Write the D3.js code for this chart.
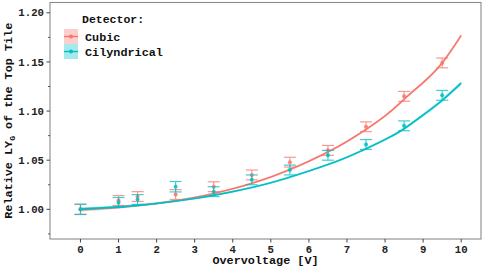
<!DOCTYPE html>
<html>
<head>
<meta charset="utf-8">
<script src="https://cdn.jsdelivr.net/npm/d3@7"></script>
<style>
  body { margin: 0; background: #fff; }
  text { font-family: "Liberation Mono", "DejaVu Sans Mono", monospace; font-weight: bold; }
</style>
</head>
<body>
<svg id="chart"></svg>
<script>
// measured points (overvoltage, relative LY) with error
const volts = [0, 1, 1.5, 2.5, 3.5, 4.5, 5.5, 6.5, 7.5, 8.5, 9.5];
const cubicLY = [1.000, 1.009, 1.013, 1.015, 1.023, 1.035, 1.048, 1.060, 1.084, 1.115, 1.149];
const cubicErr = [0.005, 0.005, 0.005, 0.005, 0.005, 0.005, 0.005, 0.005, 0.005, 0.005, 0.005];
const cylLY = [1.000, 1.007, 1.010, 1.023, 1.018, 1.030, 1.040, 1.055, 1.066, 1.085, 1.116];
const cylErr = [0.0053, 0.005, 0.005, 0.0053, 0.005, 0.005, 0.005, 0.005, 0.005, 0.005, 0.005];

// fitted curves
const fitX = [0, 1, 2, 3, 4, 5, 6, 7, 8, 8.5, 9, 9.5, 10];
const cubicFit = [0.9995, 1.002, 1.006, 1.012, 1.021, 1.033, 1.049, 1.069, 1.095, 1.112, 1.129, 1.149, 1.177];
const cubicSe = [0.0018, 0.0014, 0.0012, 0.001, 0.001, 0.001, 0.001, 0.001, 0.0012, 0.0013, 0.0015, 0.0017, 0.002];
const cylFit = [1.0003, 1.0025, 1.006, 1.011, 1.018, 1.027, 1.039, 1.053, 1.071, 1.082, 1.096, 1.111, 1.1285];
const cylSe = [0.0018, 0.0014, 0.0012, 0.001, 0.001, 0.001, 0.001, 0.001, 0.0012, 0.0013, 0.0015, 0.0017, 0.002];

const xTicks = [0, 1, 2, 3, 4, 5, 6, 7, 8, 9, 10];
const yTicks = [1.00, 1.05, 1.10, 1.15, 1.20];
const yMinor = [0.975, 1.025, 1.075, 1.125, 1.175];
const detectors = ["Cubic", "Cilyndrical"];

const W = 484, H = 267;
const panel = { left: 50, right: 481, top: 2.5, bottom: 239 };
const colors = { Cubic: "#F8766D", Cilyndrical: "#00BFC4" };

const svg = d3.select("#chart").attr("width", W).attr("height", H);

const x = d3.scaleLinear().domain([-0.8, 10.52]).range([panel.left, panel.right]);
const y = d3.scaleLinear().domain([0.9698, 1.2105]).range([panel.bottom, panel.top]);

const series = [
  { name: "Cubic", pts: cubicLY, err: cubicErr, fit: cubicFit, se: cubicSe },
  { name: "Cilyndrical", pts: cylLY, err: cylErr, fit: cylFit, se: cylSe }
];

// ribbons + fit lines
const area = d3.area()
  .x(d => x(d.x)).y0(d => y(d.v - d.s)).y1(d => y(d.v + d.s))
  .curve(d3.curveNatural);
const line = d3.line().x(d => x(d.x)).y(d => y(d.v)).curve(d3.curveNatural);

series.forEach(s => {
  const fd = fitX.map((v, i) => ({ x: v, v: s.fit[i], s: s.se[i] }));
  svg.append("path").datum(fd)
    .attr("d", area)
    .attr("fill", colors[s.name])
    .attr("opacity", 0.35);
  svg.append("path").datum(fd)
    .attr("d", line)
    .attr("fill", "none")
    .attr("stroke", colors[s.name])
    .attr("stroke-width", 1.6);
});

// error bars and points
series.forEach(s => {
  const g = svg.append("g").attr("opacity", 0.75);
  const data = volts.map((v, i) => ({ x: v, v: s.pts[i], e: s.err[i] }));
  const cap = 6;
  data.forEach(d => {
    const cx = x(d.x);
    g.append("line").attr("x1", cx).attr("x2", cx)
      .attr("y1", y(d.v - d.e)).attr("y2", y(d.v + d.e))
      .attr("stroke", colors[s.name]).attr("stroke-width", 1.2);
    [d.v - d.e, d.v + d.e].forEach(t => {
      g.append("line").attr("x1", cx - cap).attr("x2", cx + cap)
        .attr("y1", y(t)).attr("y2", y(t))
        .attr("stroke", colors[s.name]).attr("stroke-width", 1.2);
    });
  });
  svg.append("g").selectAll("circle")
    .data(data).enter().append("circle")
    .attr("cx", d => x(d.x))
    .attr("cy", d => y(d.v))
    .attr("r", 2)
    .attr("fill", colors[s.name])
    .attr("opacity", 0.85);
});

// panel border
svg.append("rect")
  .attr("x", panel.left).attr("y", panel.top)
  .attr("width", panel.right - panel.left).attr("height", panel.bottom - panel.top)
  .attr("fill", "none").attr("stroke", "#8a8a8a").attr("stroke-width", 1.1);

// y axis ticks
yTicks.forEach(t => {
  svg.append("line").attr("x1", panel.left - 3.5).attr("x2", panel.left)
    .attr("y1", y(t)).attr("y2", y(t)).attr("stroke", "#444").attr("stroke-width", 1);
  svg.append("text").attr("x", panel.left - 6).attr("y", y(t) + 3.6)
    .attr("text-anchor", "end").attr("font-size", 10.7).attr("fill", "#222")
    .text(t.toFixed(2));
});
yMinor.forEach(t => {
  svg.append("line").attr("x1", panel.left - 1.8).attr("x2", panel.left)
    .attr("y1", y(t)).attr("y2", y(t)).attr("stroke", "#444").attr("stroke-width", 1);
});

// x axis ticks
xTicks.forEach(t => {
  svg.append("line").attr("x1", x(t)).attr("x2", x(t))
    .attr("y1", panel.bottom).attr("y2", panel.bottom + 3.5)
    .attr("stroke", "#444").attr("stroke-width", 1);
  svg.append("text").attr("x", x(t)).attr("y", 252.5)
    .attr("text-anchor", "middle").attr("font-size", 10.7).attr("fill", "#222")
    .text(t);
});

// axis titles
svg.append("text")
  .attr("x", (panel.left + panel.right) / 2).attr("y", 264)
  .attr("text-anchor", "middle").attr("font-size", 11.8).attr("fill", "#111")
  .text("Overvoltage [V]");

const yt = svg.append("text")
  .attr("transform", `translate(12,${(panel.top + panel.bottom) / 2}) rotate(-90)`)
  .attr("text-anchor", "middle").attr("font-size", 11.8).attr("fill", "#111");
yt.append("tspan").text("Relative LY");
yt.append("tspan").attr("font-size", 8).attr("dy", 3).text("G");
yt.append("tspan").attr("dy", -3).text(" of the Top Tile");

// legend
const legend = svg.append("g").attr("class", "legend");
legend.append("text").attr("x", 82).attr("y", 22.5)
  .attr("font-size", 11.5).attr("fill", "#111").text("Detector:");
detectors.forEach((name, i) => {
  const ky = 29 + i * 15;
  legend.append("rect").attr("x", 64).attr("y", ky)
    .attr("width", 14).attr("height", 15)
    .attr("fill", colors[name]).attr("opacity", 0.35);
  legend.append("line").attr("x1", 64).attr("x2", 78)
    .attr("y1", ky + 7.5).attr("y2", ky + 7.5)
    .attr("stroke", colors[name]).attr("stroke-width", 1.4);
  legend.append("circle").attr("cx", 71).attr("cy", ky + 7.5).attr("r", 2)
    .attr("fill", colors[name]);
  legend.append("text").attr("x", 85).attr("y", ky + 11.5)
    .attr("font-size", 11.8).attr("fill", "#111").text(name);
});
</script>
</body>
</html>
